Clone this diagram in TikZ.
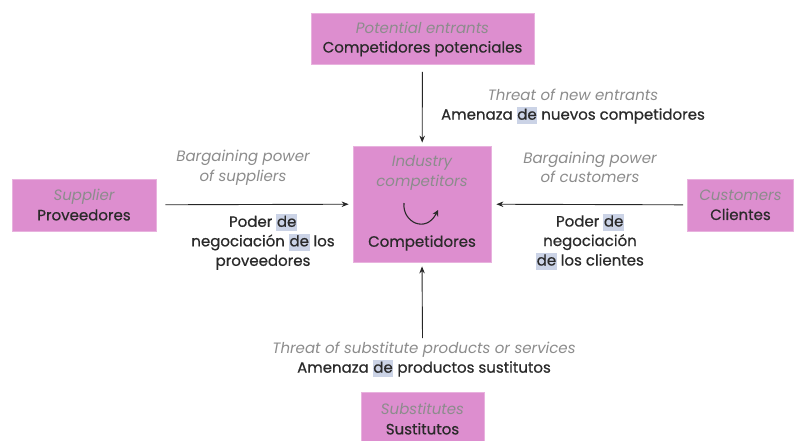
\documentclass[tikz,border=0pt]{standalone}
\usepackage{fontspec}
\setmainfont{Poppins}[FakeBold=0.6]
\newfontfamily\enfont{Poppins}[FakeBold=0]
\usetikzlibrary{arrows.meta}
\definecolor{boxpink}{HTML}{DD8ECF}
\definecolor{boxedge}{HTML}{E8B2DE}
\definecolor{engrey}{HTML}{8C8C8C}
\definecolor{estext}{HTML}{2A2A2A}
\definecolor{hlblue}{HTML}{CBD3E6}
\newcommand\hlde{{\setlength\fboxsep{0.6pt}\colorbox{hlblue}{\rule[-4pt]{0pt}{16pt}de}}}
\newcommand\en[1]{{\enfont\color{engrey}\itshape #1}}
\tikzset{
  pinkbox/.style={draw=boxedge, line width=0.8pt, fill=boxpink, align=center, inner sep=0pt, font=\fontsize{15}{19.5}\selectfont, text=estext},
  lbl/.style={align=center, inner sep=0pt, font=\fontsize{15}{19.5}\selectfont, text=estext},
  arr/.style={draw=black!85, line width=0.9pt, -{Stealth[length=7pt,width=5.5pt]}}
}
\begin{document}
\begin{tikzpicture}[x=1pt,y=-1pt]
\useasboundingbox (0,0) rectangle (794,440);
\fill[white] (0,0) rectangle (794,440);
% boxes
\node[pinkbox, minimum width=223pt, minimum height=51pt] (top) at (422.5,39) {\en{Potential entrants}\\Competidores potenciales};
\node[pinkbox, minimum width=138pt, minimum height=116pt] (center) at (422,204) {};
\node[pinkbox, minimum width=144pt, minimum height=52pt] (left) at (84,205) {\en{Supplier}\\Proveedores};
\node[pinkbox, minimum width=106pt, minimum height=52pt] (right) at (740.5,205) {\en{Customers}\\Clientes};
\node[pinkbox, minimum width=123pt, minimum height=54pt] (bottom) at (422.5,419) {\raisebox{0pt}{\en{Substitutes}}\\Sustitutos};
% center box text
\node[lbl] (ctxt) at (422,173) {\en{Industry}\\\en{competitors}};
\node[lbl] (cspanish) at (422,243) {Competidores};
\coordinate (cs) at (404,203);
\coordinate (ce) at (438,210);
\draw[draw=estext, line width=1.1pt, -{Stealth[length=6pt,width=6pt]}] (cs) .. controls (402,222) and (426,234) .. (ce);
% labels
\node[lbl] (tnew) at (573,106.5) {\en{Threat of new entrants}\\Amenaza \hlde{} nuevos competidores};
\node[lbl] (bsupen) at (243,167.5) {\en{Bargaining power}\\\en{of suppliers}};
\node[lbl] (bsupes) at (263,242) {Poder \hlde\\negociación \hlde{} los\\proveedores};
\node[lbl] (bcusen) at (590,167.5) {\en{Bargaining power}\\\en{of customers}};
\node[lbl] (bcuses) at (590,242) {Poder \hlde\\negociación\\\hlde{} los clientes};
\node[lbl] (tsub) at (424,359.5) {\en{Threat of substitute products or services}\\Amenaza \hlde{} productos sustitutos};
% arrows
\coordinate (bstart) at (422.5,338);
\draw[arr, shorten <=7pt, shorten >=3pt] (top) -- (center);
\draw[arr, shorten <=9pt, shorten >=4pt] (left) -- (center);
\draw[arr, shorten <=4pt, shorten >=5pt] (right) -- (center);
\draw[arr, shorten >=4pt] (bstart) -- (center.south);
\end{tikzpicture}
\end{document}
